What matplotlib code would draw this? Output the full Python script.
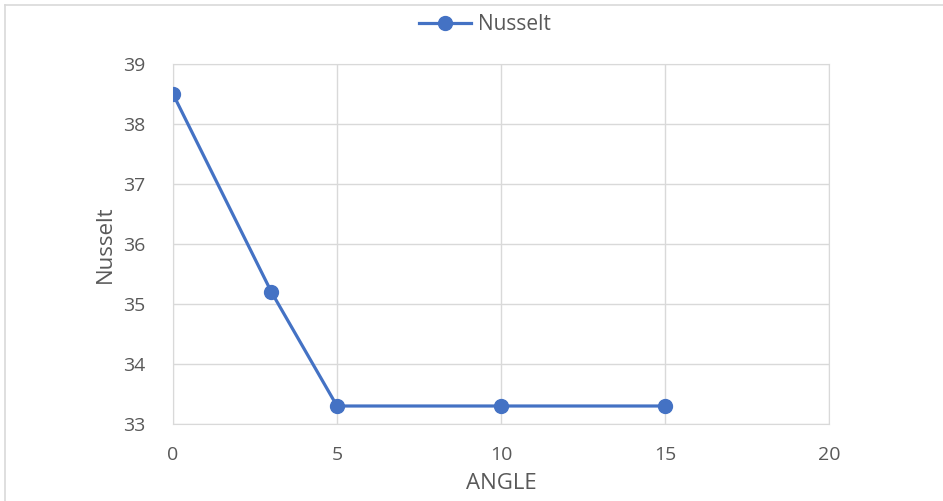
import matplotlib.pyplot as plt
from matplotlib.lines import Line2D

angle = [0, 3, 5, 10, 15]
nusselt = [38.5, 35.2, 33.3, 33.3, 33.3]
series_name = "Nusselt"

BLUE = "#4472C4"
TXT = "#595959"
GRID = "#D9D9D9"

plt.rcParams['font.family'] = ['Open Sans', 'DejaVu Sans']

fig = plt.figure(figsize=(9.43, 5.01), dpi=100)
ax = fig.add_axes([173 / 943, 77 / 501, 656 / 943, 360 / 501])

ax.plot(angle, nusselt, color=BLUE, lw=2.3, marker='o', ms=10,
        label=series_name, zorder=3)

ax.set_xlim(0, 20)
ax.set_ylim(33, 39)
ax.set_xticks(range(0, 21, 5))
ax.set_yticks(range(33, 40))
ax.grid(True, color=GRID, lw=1)
for s in ax.spines.values():
    s.set_color(GRID)
ax.tick_params(length=0, labelsize=14, colors=TXT)
ax.tick_params(axis='x', pad=16)
ax.tick_params(axis='y', pad=20)

ax.set_xlabel("ANGLE", fontsize=16, color=TXT, labelpad=6)
ax.set_ylabel(series_name, fontsize=16, color=TXT, labelpad=5)

handle = Line2D([], [], color=BLUE, lw=2.3, marker='o', ms=10)
fig.legend([handle], [series_name], loc='center', bbox_to_anchor=(485 / 943, 1 - 25 / 501),
           frameon=False, fontsize=15, labelcolor=TXT, handlelength=2.5,
           handletextpad=0.3)

# outer chart frame (top and left visible)
fig.add_artist(Line2D([5 / 943, 5 / 943], [0, 1 - 5 / 501], transform=fig.transFigure,
                      color=GRID, lw=1.2))
fig.add_artist(Line2D([5 / 943, 1], [1 - 5 / 501, 1 - 5 / 501], transform=fig.transFigure,
                      color=GRID, lw=1.2))

fig.savefig("out.png", dpi=100)
